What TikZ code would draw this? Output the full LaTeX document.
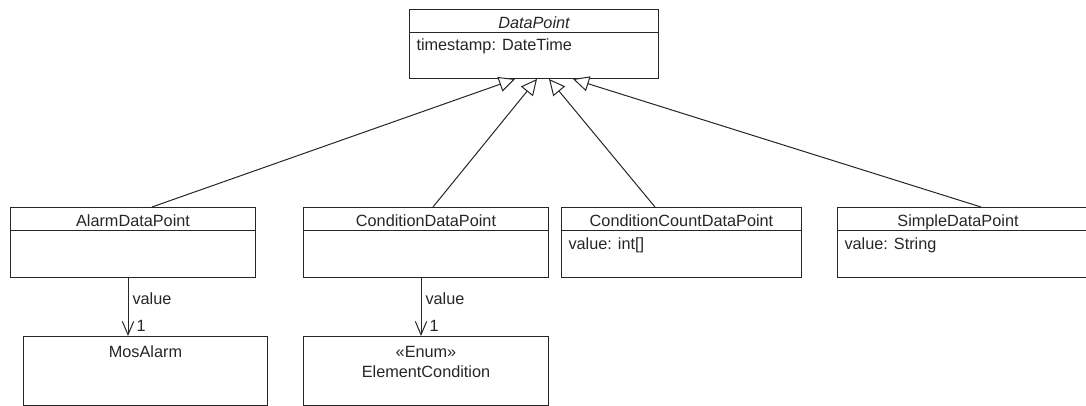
\documentclass[tikz,border=0pt]{standalone}
\usepackage{fontspec}
\setmainfont{Liberation Sans}
\usetikzlibrary{arrows.meta,calc}

\begin{document}
\begin{tikzpicture}[x=0.75pt, y=-0.75pt, line width=0.75pt, color=black!85,
		every node/.style={font=\fontsize{12.2}{15}\selectfont},
		umlclass/.style={draw, rectangle, anchor=north west, inner sep=0pt, minimum height=52.5pt},
		classname/.style={anchor=base, inner sep=0pt},
		attribute/.style={anchor=base west, inner sep=0pt},
		extends/.style={-{Triangle[open, fill=white, length=12pt, width=11.5pt]}},
		assoc/.style={-{Straight Barb[length=10pt, width=8.5pt]}}]
		\useasboundingbox (0,0) rectangle (1086,406);
		\node[umlclass, minimum width=186.75pt, minimum height=51.75pt] (datapoint) at (409,9) {};
		\node[classname, font=\fontsize{12.2}{15}\selectfont\itshape] (datapoint-name) at ($(datapoint.north)+(0,20)$) {DataPoint};
		\draw ($(datapoint.north west)+(0,24)$) -- ($(datapoint.north east)+(0,24)$);
		\node[attribute] (datapoint-ts) at ($(datapoint.north west)+(7,42)$) {timestamp: DateTime};
		\node[umlclass, minimum width=183.75pt] (alarm) at (10,207) {};
		\node[classname] (alarm-name) at ($(alarm.north)+(0,20)$) {AlarmDataPoint};
		\draw ($(alarm.north west)+(0,24)$) -- ($(alarm.north east)+(0,24)$);
		\node[umlclass, minimum width=183.75pt] (condition) at (303,207) {};
		\node[classname] (condition-name) at ($(condition.north)+(0,20)$) {ConditionDataPoint};
		\draw ($(condition.north west)+(0,24)$) -- ($(condition.north east)+(0,24)$);
		\node[umlclass, minimum width=180pt] (count) at (561,207) {};
		\node[classname] (count-name) at ($(count.north)+(0,20)$) {ConditionCountDataPoint};
		\draw ($(count.north west)+(0,24)$) -- ($(count.north east)+(0,24)$);
		\node[attribute] (count-value) at ($(count.north west)+(7,43)$) {value: int[]};
		\node[umlclass, minimum width=195pt] (simple) at (837,207) {};
		\node[classname] (simple-name) at ($(simple.north west)+(121,20)$) {SimpleDataPoint};
		\draw ($(simple.north west)+(0,24)$) -- ($(simple.north east)+(0,24)$);
		\node[attribute] (simple-value) at ($(simple.north west)+(7,43)$) {value: String};
		\node[umlclass, minimum width=183pt, minimum height=51.75pt] (mosalarm) at (23,336) {};
		\node[classname] (mosalarm-name) at ($(mosalarm.north)+(0,21)$) {MosAlarm};
		\node[umlclass, minimum width=183.75pt, minimum height=51.75pt] (elemcond) at (303,336) {};
		\node[anchor=north, align=center, inner sep=0pt] (elemcond-name) at ($(elemcond.north)+(0,9.5)$) {«Enum»\\ElementCondition};
		\draw[extends] ($(alarm.north west)+(142,0)$) -- ($(datapoint.south west)+(106,0)$);
		\draw[extends] ($(condition.north west)+(130,0)$) -- ($(datapoint.south west)+(128,0)$);
		\draw[extends] ($(count.north west)+(94,0)$) -- ($(datapoint.south west)+(140,0)$);
		\draw[extends] ($(simple.north west)+(144,0)$) -- ($(datapoint.south west)+(164,0)$);
		\draw[assoc] ($(alarm.south west)+(118,0)$) -- ($(mosalarm.north west)+(105,0)$)
		      node[pos=0.35, anchor=west, inner sep=0pt, xshift=3pt]{value}
		      node[pos=0.83, anchor=west, inner sep=0pt, xshift=6pt]{1};
		\draw[assoc] ($(condition.south west)+(118,0)$) -- ($(elemcond.north west)+(118,0)$)
		      node[pos=0.35, anchor=west, inner sep=0pt, xshift=3pt]{value}
		      node[pos=0.83, anchor=west, inner sep=0pt, xshift=6pt]{1};
\end{tikzpicture}
\end{document}
